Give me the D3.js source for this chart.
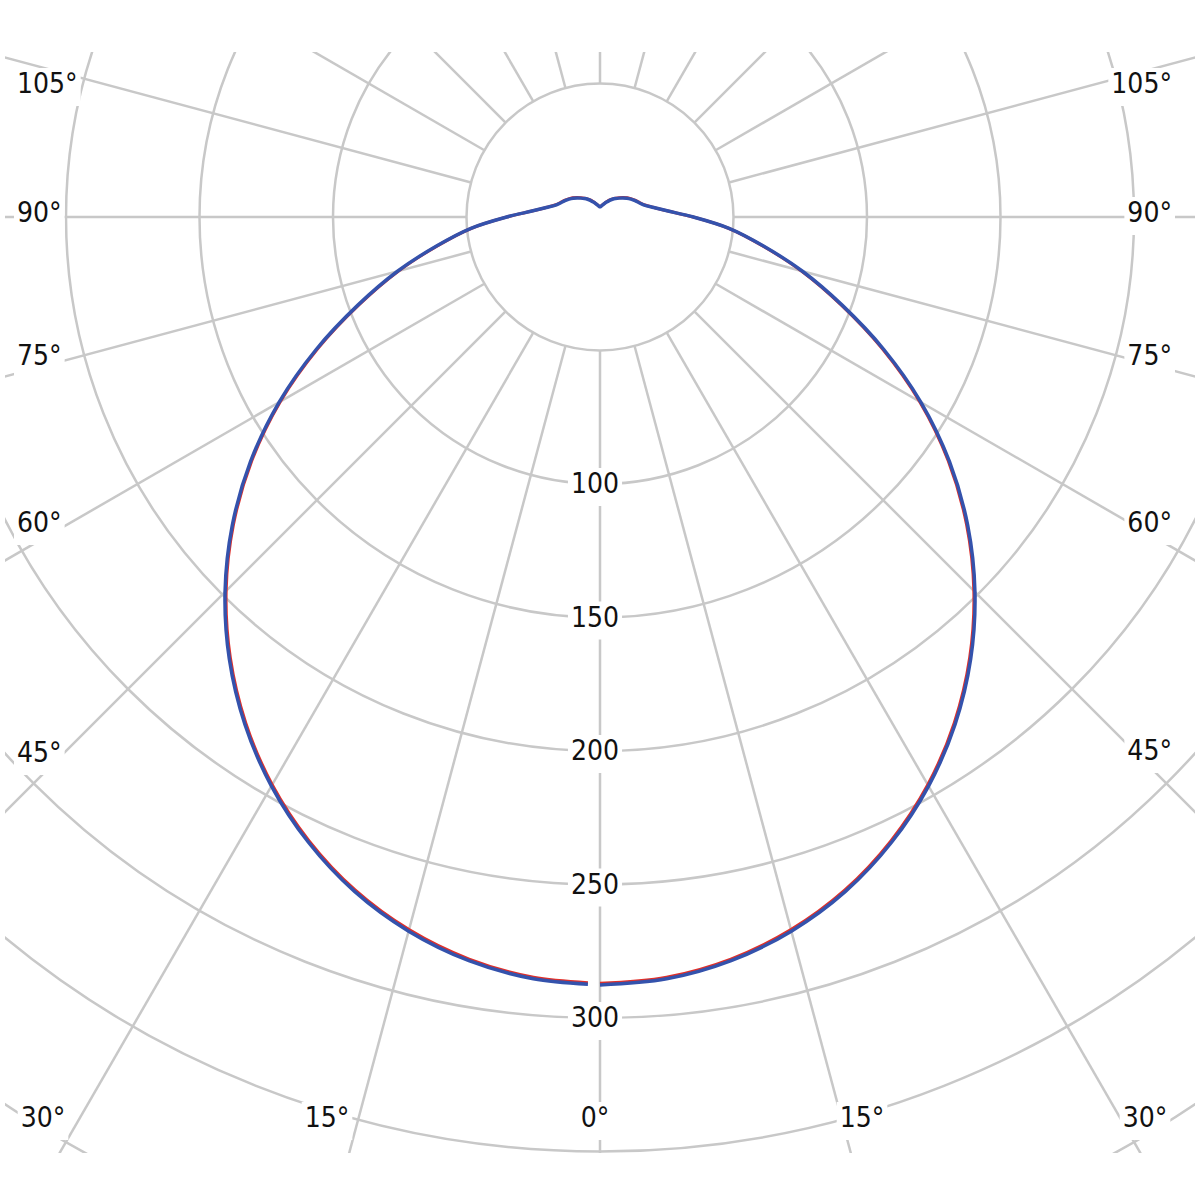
<!DOCTYPE html>
<html>
<head>
<meta charset="utf-8">
<script src="https://cdn.jsdelivr.net/npm/d3@7/dist/d3.min.js"></script>
<style>
    html, body { margin: 0; padding: 0; background: #fff; }
    svg text {
        font-family: "DejaVu Sans Condensed", "DejaVu Sans", sans-serif;
        font-stretch: condensed;
        font-size: 28px;
        fill: #111;
    }
</style>
</head>
<body>
<svg id="chart" width="1200" height="1200"></svg>
<script>

// gamma angles, 0 = straight down, 180 = straight up
const gammaAngles = d3.range(0, 181, 5);

// C0-C180 plane (red)
const planeC0 = [287.0, 285.8, 282.2, 276.3, 268.2, 257.8, 245.5, 231.3, 215.4, 198.0,
                 179.2, 159.2, 138.2, 116.6, 96.0, 78.1, 61.7, 48.3, 34.9,
                 25.6, 20.5, 17.4, 15.8, 14.7, 13.6, 12.5, 11.3, 10.2, 9.2,
                 8.3, 7.4, 6.5, 5.7, 5.0, 4.5, 4.1, 3.9];

// C90-C270 plane (blue)
const planeC90 = [287.6, 286.4, 282.8, 276.9, 268.8, 258.4, 246.1, 231.9, 216.0, 198.6,
                  179.8, 159.8, 138.8, 117.2, 96.5, 78.5, 62.0, 48.5, 35.0,
                  25.6, 20.4, 17.2, 15.6, 14.5, 13.4, 12.3, 11.1, 10.0, 9.0,
                  8.1, 7.2, 6.3, 5.6, 4.9, 4.4, 4.0, 3.8];

// grid
const ringValues = [50, 100, 150, 200, 250, 300, 350, 400];
const ringLabels = [100, 150, 200, 250, 300];
const spokeAngles = d3.range(0, 360, 15);

// angle labels round the frame
const labelLayout = [
    { text: "105°", x: 17,   y: 93,   anchor: "start" },
    { text: "90°",  x: 17,   y: 222,  anchor: "start" },
    { text: "75°",  x: 17,   y: 365,  anchor: "start" },
    { text: "60°",  x: 17,   y: 532,  anchor: "start" },
    { text: "45°",  x: 17,   y: 762,  anchor: "start" },
    { text: "105°", x: 1172, y: 93,   anchor: "end" },
    { text: "90°",  x: 1172, y: 222,  anchor: "end" },
    { text: "75°",  x: 1172, y: 365,  anchor: "end" },
    { text: "60°",  x: 1172, y: 532,  anchor: "end" },
    { text: "45°",  x: 1172, y: 760,  anchor: "end" },
    { text: "30°",  x: 43,   y: 1127, anchor: "middle" },
    { text: "15°",  x: 327,  y: 1127, anchor: "middle" },
    { text: "0°",   x: 595,  y: 1127, anchor: "middle" },
    { text: "15°",  x: 862,  y: 1127, anchor: "middle" },
    { text: "30°",  x: 1145, y: 1127, anchor: "middle" }
];

const cx = 600, cy = 217;
const frame = { x: 5, y: 52, w: 1190, h: 1101 };

const r = d3.scaleLinear().domain([0, 50]).range([0, 133.5]);

const svg = d3.select("#chart");

svg.append("defs").append("clipPath")
    .attr("id", "frame")
    .append("rect")
    .attr("x", frame.x)
    .attr("y", frame.y)
    .attr("width", frame.w)
    .attr("height", frame.h);

const grid = svg.append("g")
    .attr("clip-path", "url(#frame)")
    .attr("fill", "none")
    .attr("stroke", "#c8c8c8")
    .attr("stroke-width", 2.5);

// cerchi
grid.selectAll("circle")
    .data(ringValues)
    .join("circle")
    .attr("cx", cx)
    .attr("cy", cy)
    .attr("r", d => r(d));

// raggi, from the inner ring outwards
const rad = d => d * Math.PI / 180;
grid.selectAll("line")
    .data(spokeAngles)
    .join("line")
    .attr("x1", d => cx + r(50) * Math.sin(rad(d)))
    .attr("y1", d => cy + r(50) * Math.cos(rad(d)))
    .attr("x2", d => cx + r(450) * Math.sin(rad(d)))
    .attr("y2", d => cy + r(450) * Math.cos(rad(d)));

// text with a white box behind it
function boxedText(g, x, y, text, anchor) {
    const bg = g.append("rect").attr("fill", "#fff");
    const t = g.append("text")
        .attr("x", x)
        .attr("y", y)
        .attr("text-anchor", anchor)
        .text(text);
    const b = t.node().getBBox();
    bg.attr("x", b.x - 3)
        .attr("y", b.y + 1)
        .attr("width", b.width + 6)
        .attr("height", b.height + 5);
}

const labels = svg.append("g");

ringLabels.forEach(v => {
    boxedText(labels, cx - 5, cy + r(v) + 9, String(v), "middle");
});

labelLayout.forEach(d => {
    boxedText(labels, d.x, d.y, d.text, d.anchor);
});

// curve: right half 0..180, then left half back down to 0
function loopPoints(values) {
    const right = gammaAngles.map((g, i) => ({ a: Math.PI - rad(g), v: values[i] }));
    const left = gammaAngles.slice(0, -1).map((g, i) => ({ a: Math.PI + rad(g), v: values[i] })).reverse();
    return right.concat(left);
}

const radial = d3.lineRadial()
    .angle(d => d.a)
    .radius(d => r(d.v))
    .curve(d3.curveCatmullRom.alpha(0.5));

const curves = svg.append("g")
    .attr("transform", `translate(${cx},${cy})`)
    .attr("fill", "none");

[
    { values: planeC0, color: "#e0302a", width: 3 },
    { values: planeC90, color: "#3452ac", width: 3.5 }
].forEach(s => {
    const p = curves.append("path")
        .attr("d", radial(loopPoints(s.values)))
        .attr("stroke", s.color)
        .attr("stroke-width", s.width)
        .attr("stroke-linejoin", "round");
    // small gap where the loop would close at 0 deg
    const len = p.node().getTotalLength();
    p.attr("stroke-dasharray", `${len - 13} 13`);
});

</script>
</body>
</html>
